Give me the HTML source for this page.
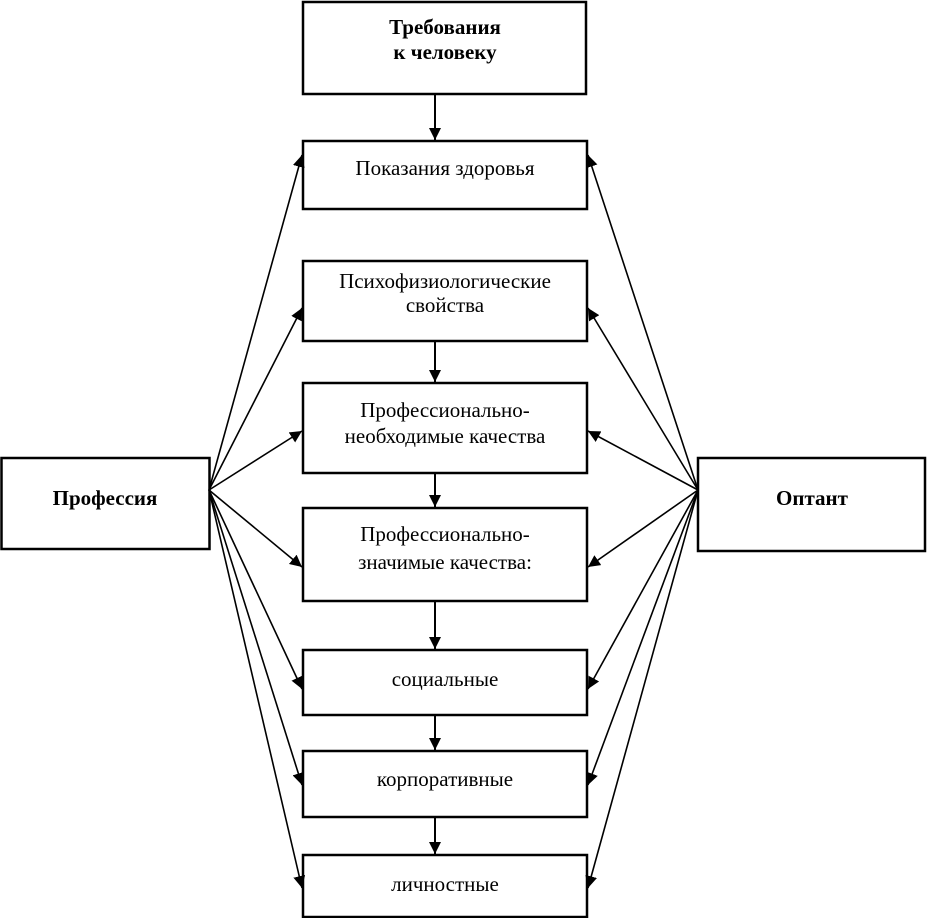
<!DOCTYPE html>
<html><head><meta charset="utf-8"><style>
html,body{margin:0;padding:0;background:#fff;}
svg{display:block}
text{font-family:"Liberation Serif",serif;font-size:21px;fill:#000;text-anchor:middle}
.b{font-weight:bold}
</style></head><body>
<svg width="927" height="918" viewBox="0 0 927 918" xmlns="http://www.w3.org/2000/svg">
<defs>
<marker id="a" viewBox="0 0 10 10" refX="10" refY="5" markerWidth="12" markerHeight="12" markerUnits="userSpaceOnUse" orient="auto">
<path d="M0,0 L10,5 L0,10 z" fill="#000"/></marker>
</defs>
<g fill="none" stroke="#000" stroke-width="2.5">
<rect x="303" y="2" width="283" height="92"/>
<rect x="303" y="141" width="284" height="68"/>
<rect x="303" y="261" width="284" height="80"/>
<rect x="303" y="383" width="284" height="90"/>
<rect x="303" y="508" width="284" height="93"/>
<rect x="303" y="650" width="284" height="65"/>
<rect x="303" y="751" width="284" height="66"/>
<rect x="303" y="855" width="284" height="62"/>
<rect x="1.5" y="458" width="208" height="91"/>
<rect x="698" y="458" width="227" height="93"/>
</g>
<g stroke="#000" stroke-width="2" marker-end="url(#a)">
<line x1="435" y1="94" x2="435" y2="140"/>
<line x1="435" y1="341" x2="435" y2="382"/>
<line x1="435" y1="473" x2="435" y2="507"/>
<line x1="435" y1="601" x2="435" y2="649"/>
<line x1="435" y1="715" x2="435" y2="750"/>
<line x1="435" y1="817" x2="435" y2="854"/>
</g>
<g stroke="#000" stroke-width="1.6" marker-end="url(#a)">
<line x1="209" y1="490" x2="302" y2="155"/>
<line x1="209" y1="490" x2="302" y2="308"/>
<line x1="209" y1="490" x2="302" y2="431"/>
<line x1="209" y1="490" x2="302" y2="567"/>
<line x1="209" y1="490" x2="302" y2="689"/>
<line x1="209" y1="490" x2="302" y2="785"/>
<line x1="209" y1="490" x2="302" y2="888"/>
<line x1="698" y1="490" x2="588" y2="155"/>
<line x1="698" y1="490" x2="588" y2="308"/>
<line x1="698" y1="490" x2="588" y2="431"/>
<line x1="698" y1="490" x2="588" y2="567"/>
<line x1="698" y1="490" x2="588" y2="689"/>
<line x1="698" y1="490" x2="588" y2="785"/>
<line x1="698" y1="490" x2="588" y2="888"/>
</g>
<text class="b" x="445" y="34">Требования</text>
<text class="b" x="445" y="59">к человеку</text>
<text x="445" y="175">Показания здоровья</text>
<text x="445" y="288">Психофизиологические</text>
<text x="445" y="312">свойства</text>
<text x="445" y="417">Профессионально-</text>
<text x="445" y="443">необходимые качества</text>
<text x="445" y="541">Профессионально-</text>
<text x="445" y="569">значимые качества:</text>
<text x="445" y="686">социальные</text>
<text x="445" y="786">корпоративные</text>
<text x="445" y="891">личностные</text>
<text class="b" x="105" y="505">Профессия</text>
<text class="b" x="812" y="505">Оптант</text>
</svg>
</body></html>
